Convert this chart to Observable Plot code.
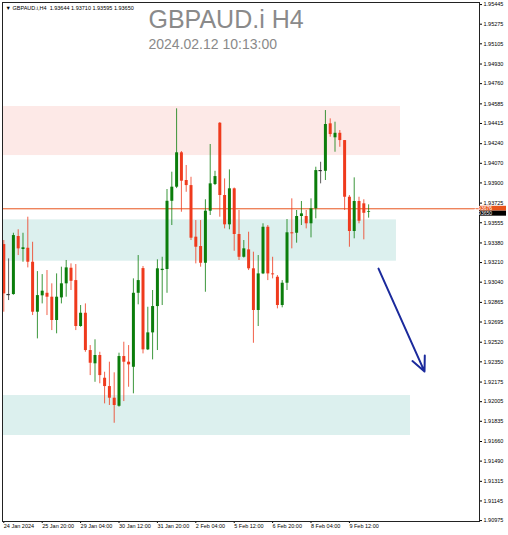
<!DOCTYPE html>
<html><head><meta charset="utf-8">
<script src="https://cdn.jsdelivr.net/npm/d3@7"></script>
<script src="https://cdn.jsdelivr.net/npm/@observablehq/plot@0.6"></script>
<style>body{margin:0;background:#fff;} #chart svg{display:block}</style>
</head><body><div id="chart"></div>
<script>
const symbol = "GBPAUD.i";
const timeframe = "H4";
const serverTime = "2024.02.12 10:13:00";

const open = [
 1.93366,1.92933,1.92933,1.93436,1.93323,1.93334,1.93213,1.92780,1.92922,1.92944,
 1.92910,1.92708,1.92904,1.93026,1.93161,1.93054,1.92656,1.92771,1.92448,1.92333,
 1.92405,1.92208,1.92136,1.92035,1.91965,1.92396,1.92347,1.92303,1.92944,1.93158,
 1.92454,1.92601,1.92829,1.93141,1.93150,1.93741,1.93863,1.94161,1.93921,1.93877,
 1.93430,1.93349,1.93204,1.93655,1.93886,1.94417,1.93791,1.93537,1.93849,1.93453,
 1.93256,1.93320,1.93156,1.92795,1.93112,1.93516,1.93112,1.93083,1.92838,1.93031,
 1.93468,1.93464,1.93609,1.93609,1.93546,1.93676,1.94007,1.94001,1.94412,1.94291,
 1.94330,1.94267,1.93776,1.93479,1.93739,1.93719,1.93644];
const high = [
 1.93401,1.93242,1.93464,1.93494,1.93464,1.93603,1.93386,1.93132,1.93106,1.93141,
 1.93026,1.93112,1.93170,1.93228,1.93199,1.93193,1.92838,1.92852,1.92491,1.92541,
 1.92433,1.92260,1.92347,1.92255,1.92425,1.92520,1.92491,1.93069,1.93271,1.93176,
 1.92823,1.92968,1.93234,1.93256,1.93843,1.93993,1.94542,1.94172,1.94051,1.93949,
 1.93574,1.93574,1.93754,1.94233,1.94001,1.94423,1.93935,1.94013,1.93856,1.93661,
 1.93401,1.93473,1.93300,1.93271,1.93546,1.93531,1.93256,1.93098,1.93054,1.93583,
 1.93762,1.93661,1.93739,1.93661,1.93762,1.94036,1.94079,1.94527,1.94455,1.94426,
 1.94354,1.94267,1.93791,1.93944,1.93776,1.93754,1.93710];
const low = [
 1.92780,1.92881,1.92927,1.93271,1.93213,1.93164,1.92751,1.92549,1.92852,1.92751,
 1.92621,1.92593,1.92852,1.92910,1.92968,1.92621,1.92650,1.92433,1.92231,1.92173,
 1.92160,1.91986,1.91972,1.91818,1.91957,1.92006,1.92130,1.92073,1.92844,1.92419,
 1.92448,1.92367,1.92448,1.92838,1.92944,1.93531,1.93851,1.93646,1.93819,1.93401,
 1.93199,1.93170,1.92953,1.93618,1.93877,1.93603,1.93502,1.93494,1.93308,1.93228,
 1.93249,1.93141,1.92511,1.92656,1.93106,1.93054,1.93069,1.92809,1.92818,1.92968,
 1.93329,1.93378,1.93531,1.93502,1.93424,1.93589,1.93892,1.93921,1.94296,1.94166,
 1.94209,1.93661,1.93343,1.93416,1.93546,1.93407,1.93595];
const close = [
 1.92939,1.92933,1.93444,1.93329,1.93338,1.93213,1.92780,1.92924,1.92962,1.92910,
 1.92708,1.92910,1.93026,1.93164,1.93048,1.92656,1.92771,1.92448,1.92338,1.92405,
 1.92231,1.92136,1.92035,1.91972,1.92396,1.92347,1.92324,1.92944,1.93054,1.92454,
 1.92601,1.92829,1.93156,1.93152,1.93741,1.93863,1.94161,1.93915,1.93877,1.93421,
 1.93343,1.93204,1.93655,1.93892,1.93955,1.93791,1.93537,1.93849,1.93453,1.93256,
 1.93329,1.93156,1.92795,1.93112,1.93516,1.93112,1.93104,1.92838,1.93031,1.93468,
 1.93459,1.93609,1.93632,1.93546,1.93676,1.94007,1.94007,1.94406,1.94319,1.94330,
 1.94267,1.93776,1.93479,1.93739,1.93568,1.93637,1.93650];

const xTickBars = [0,8,16,24,32,40,48,56,64,72];
const xTickLabels = ["24 Jan 2024","25 Jan 20:00","29 Jan 04:00","30 Jan 12:00","31 Jan 20:00",
  "2 Feb 04:00","5 Feb 12:00","6 Feb 20:00","8 Feb 04:00","9 Feb 12:00"];
const yTicks = [1.95445,1.95275,1.95105,1.94930,1.94760,1.94585,1.94415,1.94240,1.94070,
  1.93900,1.93725,1.93555,1.93380,1.93210,1.93040,1.92865,1.92695,1.92520,1.92350,1.92175,
  1.92005,1.91835,1.91660,1.91490,1.91315,1.91145,1.90975];

// zones: [price low, price high], end bar
const zoneNames = ["resistance","support","target"];
const zoneLow  = [1.94137, 1.93222, 1.91712];
const zoneHigh = [1.94562, 1.93580, 1.92058];
const zoneEndBar = [82.65, 81.8, 84.73];
const zoneFill = ["#fde9e7", "#dcf0ee", "#dcf0ee"];

const levelLine = 1.93676;
const bidPrice = 1.93650;
const arrowBars = [78.06, 87.65];
const arrowPrices = [1.93158, 1.92266];

const xDomain = [-0.27, 99.1];
const yDomain = [1.90967, 1.95463];

const candles = open.map((o, i) => ({i, open: o, high: high[i], low: low[i], close: close[i]}));
const GREEN = "#0b7d0b", RED = "#ef3a1d";
const col = d => d.close > d.open ? GREEN : d.close < d.open ? RED : "#333";
const isSmall = d => Math.abs(d.close - d.open) < 0.00004;
const zones = zoneNames.map((n, k) => ({n, x1: xDomain[0], x2: zoneEndBar[k], y1: zoneLow[k], y2: zoneHigh[k], fill: zoneFill[k]}));
const last = candles[candles.length - 1];
const f5 = d3.format(".5f");

const chart = Plot.plot({
  width: 508, height: 535,
  marginLeft: 2, marginRight: 29, marginTop: 2, marginBottom: 14,
  style: {fontFamily: "'Liberation Sans', Arial, sans-serif", fontSize: "5.5px", background: "#fff"},
  x: {type: "linear", domain: xDomain, axis: null},
  y: {domain: yDomain, axis: null},
  marks: [
    Plot.rect(zones, {x1: "x1", x2: "x2", y1: "y1", y2: "y2", fill: "fill"}),
    Plot.ruleY([levelLine], {stroke: "#e8541c", strokeWidth: 1}),
    Plot.ruleX(candles, {x: "i", y1: "low", y2: "high", stroke: col, strokeWidth: 1, strokeOpacity: 0.8}),
    Plot.ruleX(candles.filter(d => !isSmall(d)), {x: "i", y1: "open", y2: "close", stroke: col, strokeWidth: 3}),
    Plot.ruleY(candles.filter(isSmall), {y: "close", x1: d => d.i - 0.35, x2: d => d.i + 0.35, stroke: col, strokeWidth: 1.2}),
    Plot.arrow([0], {x1: () => arrowBars[0], y1: () => arrowPrices[0], x2: () => arrowBars[1], y2: () => arrowPrices[1],
      stroke: "#1b2a9c", strokeWidth: 2, headLength: 12, headAngle: 50}),
    Plot.axisY(yTicks, {anchor: "right", tickSize: 2, tickPadding: 2, tickFormat: f5, fontSize: 5.5, fill: "#000"}),
    Plot.axisX(xTickBars, {anchor: "bottom", tickSize: 2, tickPadding: 1, textAnchor: "start", fontSize: 5.5, fill: "#000",
      tickFormat: d => xTickLabels[xTickBars.indexOf(d)]}),
    Plot.frame({stroke: "#222", strokeWidth: 1}),
    Plot.text([`${symbol} ${timeframe}`], {text: d => d, frameAnchor: "top-left", dx: 146, dy: 25.3, lineAnchor: "bottom",
      textAnchor: "start", fontSize: 25, fill: "#8a8a8a"}),
    Plot.text([serverTime], {text: d => d, frameAnchor: "top-left", dx: 146, dy: 46.3, lineAnchor: "bottom",
      textAnchor: "start", fontSize: 14, fill: "#8a8a8a"}),
    Plot.text([`\u25BC ${symbol},${timeframe}  ${f5(last.open)} ${f5(last.high)} ${f5(last.low)} ${f5(last.close)}`],
      {text: d => d, frameAnchor: "top-left", dx: 3, dy: 7.3, lineAnchor: "bottom", textAnchor: "start", fontSize: 5.5, fill: "#000"})
  ]
});
document.getElementById("chart").appendChild(chart);

// price labels on the right axis
const ys = chart.scale("y"), xs = chart.scale("x");
const xr = xs.range[1];
const svg = d3.select(chart);
const yl = ys.apply(levelLine), yb = ys.apply(bidPrice);
const g = svg.append("g").attr("font-size", 5).attr("font-family", "'Liberation Sans', Arial, sans-serif");
g.append("rect").attr("x", xr).attr("y", yl - 2.5).attr("width", 27).attr("height", 4.8).attr("fill", "#e8541c");
g.append("text").attr("x", xr + 4).attr("y", yl + 1.7).attr("fill", "#fff").text(f5(levelLine));
g.append("rect").attr("x", xr).attr("y", yb - 0.6).attr("width", 27).attr("height", 5).attr("fill", "#000");
g.append("text").attr("x", xr + 4).attr("y", yb + 3.7).attr("fill", "#fff").text(f5(bidPrice));
</script>
</body></html>
